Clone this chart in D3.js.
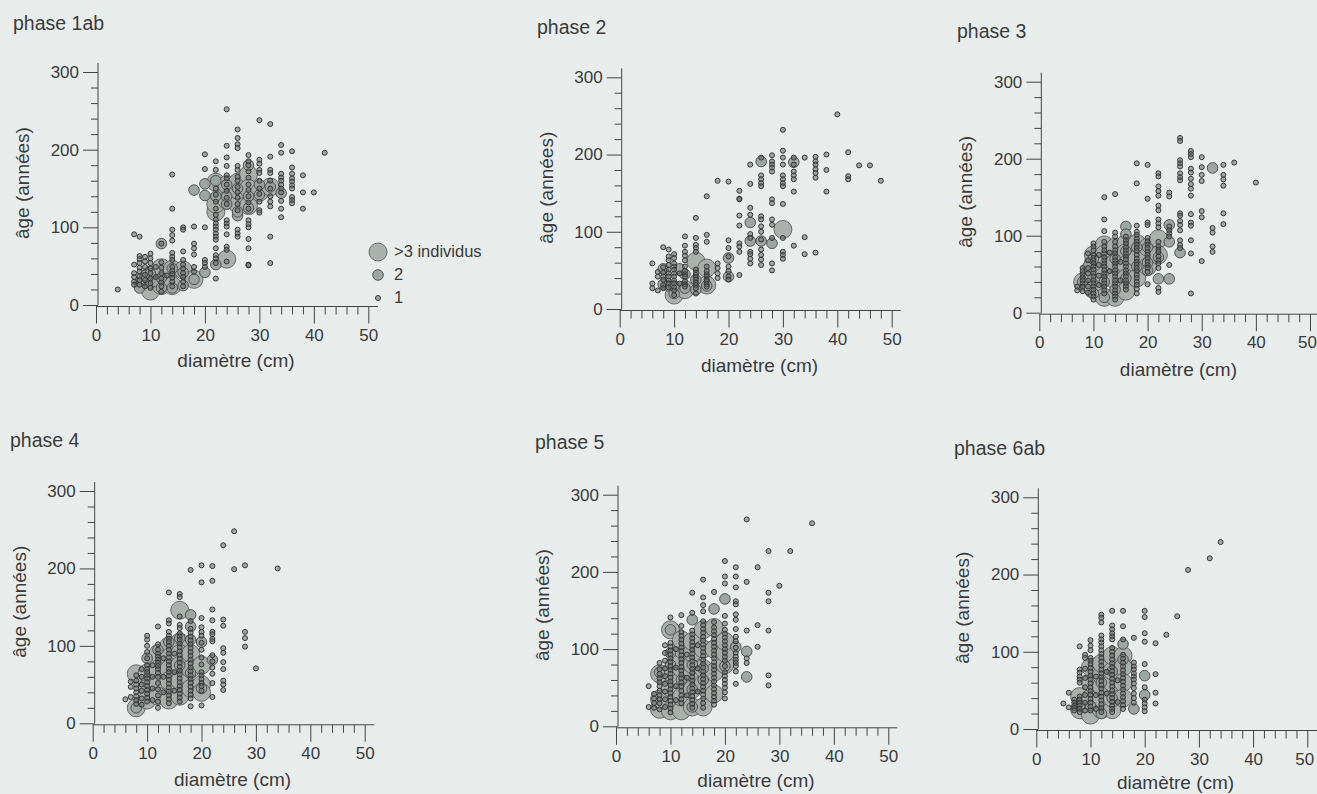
<!DOCTYPE html>
<html lang="fr">
<head>
<meta charset="utf-8">
<title>âge / diamètre par phase</title>
<script src="https://cdn.jsdelivr.net/npm/d3@7"></script>
<style>
  html, body { margin: 0; padding: 0; background: #e8edec; overflow: hidden; }
  text { font-family: "Liberation Sans", Arial, sans-serif; fill: #3a3a3a; }
</style>
</head>
<body>
<div id="chart"></div>
<script>
// values
// each row: diameter (cm), then the ages (years) seen in that column
const phase1abOne = [[4,20],[7,91,52,41,36,30,26],[8,88,63,59,54,48,43,37,32,26],[9,62,56,49,39,32,24],
  [10,66,60,54,47,41,34,28,22],[11,49,36],[12,79,55,48,41,34,29,24,17],[13,38],
  [14,168,124,97,90,83,67,62,58,49,44,40,35,30,24],[16,100,97,69,58,52,47,41,36,30,24],[18,101,79,73,65,49,43],
  [20,194,175,100,58,54,49],[22,185,174,150,142,133,124,116,110,105,101,97,92,88,84,73,64,60,54,34],
  [24,252,205,190,179,167,163,155,147,138,130,109,105,101,91,75,71,56],
  [26,226,215,207,202,179,174,165,160,152,145,138,130,122,97,92,88],
  [28,193,185,180,172,164,155,148,140,132,124,109,104,100,85,73,52,51],[30,238,187,182,174,170,160,150,143,133,122,119],
  [32,233,191,174,170,160,150,140,133,127,88,54],[34,206,196,169,164,160,155,150,145,134,124,113],
  [36,198,177,169,163,159,154,150,139,135,131],[38,167,145,124],[40,145],[42,196]];
const phase1abTwo = [[8,28],[8,22],[9,38],[10,40],[10,28],[11,30],[12,79],[12,22],[12,35],[14,22],[14,47],[16,25],[16,42],[18,33],
  [20,42],[18,148],[20,156],[20,141],[22,52],[26,115],[22,160],[22,140],[24,155],[24,130],[26,150],[26,120],
  [28,125],[28,140],[30,142],[32,152],[34,144],[24,140],[28,180],[30,155]];
const phase1abMany = [[10,18],[10,38],[12,25],[12,48],[14,46],[14,25],[16,45],[18,33],[22,120],[22,130],[22,158],[24,59],[24,145],
  [24,135],[24,155],[26,130],[26,148],[26,158],[28,168],[28,150],[28,128],[30,145],[32,152]];

const phase2One = [[6,59,33,27],[7,48,42,24],[8,80,54,47,42,38,31,27],[9,77,68,63,57,51,46,42,37,33,28],
  [10,71,66,59,55,51,46,42,37,33,28,24,18],[11,46,33],[12,94,82,74,69,63,55,49,45,42,36,32,29],
  [14,118,92,83,79,74,51,47,44,41,38,34,31,27,20],[16,146,96,87,55,49,45,42,38,36,32,29],
  [18,166,59,53,46,40],[20,165,89,79,68,55,49,42,38],[22,153,143,142,121,108,85,81,74,44],
  [24,187,162,131,122,97,92,74,71,65,59],[26,196,173,168,163,159,120,116,107,100,90,77,70,64,57],
  [28,199,191,187,183,178,142,137,116,109,92,59,50],[30,232,205,196,187,173,168,163,159,136,92,74,70,65],
  [32,196,187,178,173,168,152,82],[34,196,93,71],[36,197,191,187,181,176,170,73],[38,200,180,152],[40,252],
  [42,203,172,168],[44,186],[46,186],[48,166]];
const phase2Two = [[8,52],[8,32],[11,52],[9,30],[10,20],[10,30],[12,45],[12,27],[14,25],[14,38],[16,30],[20,66],[20,42],
  [24,112],[24,88],[26,88],[28,85],[32,190],[26,191]];
const phase2Many = [[30,103],[14,62],[16,53],[10,18],[12,25],[16,31]];

const phase3One = [[7,34,29],[8,58,54,50,46,42,38,34,28],[9,77,68,58,51,42,34,26],
  [10,90,86,81,75,71,68,64,60,56,51,47,42,38,34,30,25,21,17],[11,75,62,48,36],
  [12,150,121,106,92,86,81,77,72,68,64,60,55,51,47,42,38,34,29,25],[13,78,54],
  [14,154,104,99,92,86,81,77,72,68,64,60,55,51,47,42,38,34,29,25,21,17],[15,66,42],
  [16,99,94,90,85,81,77,73,69,64,60,55,51,47,42,38,34,30],
  [18,194,168,113,105,101,96,92,88,84,80,75,70,66,62,58,54,49,45,40,36,31,25],
  [20,192,148,117,114,97,92,88,84,79,75,71,66,62,58,53,37],
  [22,181,177,164,158,152,139,133,121,116,111,92,86,82,79,73,68,64,58,32,27],
  [24,156,151,112,107,103,99,62],[26,227,223,198,194,190,181,176,172,129,126,119,114,107,94,88,84],
  [28,210,206,202,187,182,174,167,161,152,128,117,113,94,77,25],[30,202,189,179,171,132,124,67],
  [32,110,104,86,79],[34,192,179,173,165,129,115],[36,195],[40,169]];
const phase3Two = [[32,188],[24,114],[24,92],[26,78],[24,44],[22,44],[20,85],[20,65],[18,60],[16,45],[12,20],[10,25],
  [14,30],[16,112],[16,102],[9,60],[8,40],[10,70],[14,70],[18,85],[22,72],[16,80],[12,40],[20,55]];
const phase3Many = [[8,40],[10,65],[10,75],[10,50],[10,30],[12,88],[12,76],[12,62],[12,48],[12,20],[14,85],[14,65],[14,42],[14,20],
  [16,90],[16,78],[16,62],[16,45],[16,28],[18,90],[18,70],[18,45],[20,85],[20,60],[22,96],[22,75]];

const phase4One = [[6,31],[7,54,47,34],[8,62,55,50,45,40,35,30,25],[9,70,60,50,42,32,24],
  [10,113,108,100,92,84,75,70,66,62,58,53,48,43,38,33,28],
  [11,75,60,45,30],[12,125,102,95,90,86,82,78,74,70,65,60,52,44,36,28,20],
  [13,84,60,40],
  [14,169,133,129,118,113,109,105,100,95,90,85,80,75,70,66,61,56,51,46,41,36,31,26],[15,90,66,42],
  [16,167,163,138,127,123,116,112,108,103,98,93,88,83,78,73,68,63,58,53,48,43,38,33,28],
  [18,198,132,122,117,112,107,102,97,92,87,82,77,72,67,62,57,52,47,42,37,32,22],
  [20,204,182,136,124,118,113,104,95,85,76,66,62,57,52,48,42,23],[22,203,184,147,133,118,115,109,106,88,80,72,64,52,34],
  [24,230,134,126,97,91,79,70,55,50,43],[26,248,199],[28,204,118,110,99],[30,71],[34,200]];
const phase4Two = [[10,84],[18,140],[18,125],[20,105],[22,82],[18,108],[14,105],[16,75],[8,20],[18,65],[20,45],[12,95],[16,110]];
const phase4Many = [[8,64],[8,20],[10,65],[10,45],[10,30],[12,90],[12,70],[12,50],[12,35],[14,100],[14,85],[14,70],[14,55],[14,30],
  [16,146],[16,105],[16,90],[16,75],[16,55],[16,35],[18,90],[18,70],[18,45],[20,75],[20,50],[20,40]];

const phase5One = [[6,52,25],[7,42,36,30,24],[8,82,74,68,62,57,52,46,40,35,30,22],[9,105,95,85,75,65,55,45,35,25],
  [10,141,108,103,98,93,88,83,78,73,68,63,58,53,48,43,38,33,28,23,18],[11,100,76,52,34],
  [12,144,130,122,117,112,107,102,97,92,87,82,77,72,67,62,57,52,46,40,35,30],[13,93,63,40],
  [14,173,147,124,119,114,109,104,99,94,89,84,79,74,69,64,59,54,49,44,39,34,29,24],[15,105,75,45],
  [16,190,167,157,149,136,131,126,121,116,111,106,101,96,91,86,81,76,71,66,61,56,51,46,41,36,30,24],
  [18,174,135,128,123,118,113,108,103,98,93,88,83,78,73,68,63,58,53,48,43,38,33,28],
  [20,214,194,185,143,133,125,120,115,110,105,100,95,90,85,78,70,65,60,55,50,44,36],
  [22,206,194,180,162,158,145,138,126,116,110,102,95,90,86,82,78,71,55],[24,268,187,124,88,82],[26,206,131,103],
  [28,227,173,162,124,66,53],[30,182],[32,227],[36,263]];
const phase5Two = [[20,165],[18,152],[14,138],[10,125],[24,97],[24,64],[22,103],[14,48],[16,75],[16,60],[20,78],[8,70],
  [14,80],[12,60],[14,25],[10,95],[10,80]];
const phase5Many = [[8,22],[8,35],[8,68],[10,20],[10,50],[10,70],[10,125],[12,20],[12,38],[12,60],[12,75],[12,85],[12,100],[12,112],
  [14,25],[14,48],[14,70],[14,80],[14,95],[14,110],[16,25],[16,55],[16,75],[16,100],[16,125],[18,42],[18,70],[18,100],[18,128],
  [20,80],[20,95],[20,110]];

const phase6abOne = [[5,33],[6,47,28],[7,38,34,30,27,24],[8,107,77,73,68,64,60,42,38,34,30,26,22],
  [9,96,92,78,66,54,44,34,24],
  [10,115,108,102,92,88,84,79,74,69,64,59,54,49,44,39,34,29,24],[11,68,44,26],
  [12,148,144,138,121,116,112,107,102,97,92,87,82,77,72,67,62,57,52,47,42,37,32,27,22],[13,74,46],
  [14,153,134,129,124,120,116,105,100,95,90,85,80,75,70,65,60,55,50,45,40,35,30,26,22],[15,63,35],
  [16,153,133,116,96,91,86,81,76,71,66,61,56,51,46,41,36,31,26],
  [18,118,86,81,77,72,68,64,59,53,46,40,34],[20,153,145,124,113,84,54,38,33,28,23],
  [22,111,71,47,33],[24,122],[26,146],[28,206],[32,221],[34,242]];
const phase6abTwo = [[16,110],[20,69],[20,44],[18,26],[12,20],[14,40],[14,75],[12,60],[10,30],[8,30],[16,90]];
const phase6abMany = [[8,42],[8,25],[10,18],[10,40],[10,60],[10,80],[12,25],[12,40],[12,55],[12,70],[12,85],[14,25],[14,40],[14,60],[14,75],[14,95],
  [16,95],[16,80],[16,60],[16,40]];

const xMajorTicks = [0, 10, 20, 30, 40, 50];
const xMinorTicks = [2, 4, 6, 8, 12, 14, 16, 18, 22, 24, 26, 28, 32, 34, 36, 38, 42, 44, 46, 48];
const yMajorTicks = [0, 100, 200, 300];
const yMinorTicks = [20, 40, 60, 80, 120, 140, 160, 180, 220, 240, 260, 280];
const legendLabels = ['>3 individus', '2', '1'];
const xLabel = 'diamètre (cm)';
const yLabel = 'âge (années)';

// position of every panel on the page
const panels = [
  {title: 'phase 1ab', one: phase1abOne, two: phase1abTwo, many: phase1abMany,
    titleX: 13, titleY: 30, x0: 96, x50: 368.3, y0: 305, y300: 72, xEnd: 378, labelDy: 62},
  {title: 'phase 2', one: phase2One, two: phase2Two, many: phase2Many,
    titleX: 537, titleY: 34, x0: 619.7, x50: 891.7, y0: 309, y300: 77.3, xEnd: 900.7, labelDy: 63},
  {title: 'phase 3', one: phase3One, two: phase3Two, many: phase3Many,
    titleX: 957, titleY: 38, x0: 1039.3, x50: 1310, y0: 312.7, y300: 81.7, xEnd: 1317, labelDy: 63},
  {title: 'phase 4', one: phase4One, two: phase4Two, many: phase4Many,
    titleX: 10, titleY: 447, x0: 92.7, x50: 364.7, y0: 723.3, y300: 491, xEnd: 374.3, labelDy: 63},
  {title: 'phase 5', one: phase5One, two: phase5Two, many: phase5Many,
    titleX: 535, titleY: 449, x0: 616, x50: 888.3, y0: 726.3, y300: 494.7, xEnd: 897.3, labelDy: 61},
  {title: 'phase 6ab', one: phase6abOne, two: phase6abTwo, many: phase6abMany,
    titleX: 954, titleY: 455, x0: 1036.3, x50: 1307.3, y0: 729, y300: 497.3, xEnd: 1317, labelDy: 60},
];

const radius = {one: 2.5, two: 5.3, many: 9};
const fill = {one: '#666c6a', two: '#99a29e', many: '#a6aeaa'};
const fillOpacity = {one: 0.55, two: 0.95, many: 0.95};
const stroke = {one: '#363636', two: '#484848', many: '#505050'};
const strokeWidth = {one: 1, two: 0.9, many: 0.8};

const svg = d3.select('#chart')
    .append('svg')
    .attr('width', 1317)
    .attr('height', 794);

// turn [d, age, age...] rows into one {d, age} object per circle
const expand = (rows) => rows.flatMap((row) =>
  row.slice(1).map((age) => ({d: row[0], age: age})));

const drawCircles = (g, x, y, rows, kind) => {
  g.append('g')
      .selectAll('circle')
      .data(expand(rows))
      .join('circle')
      .attr('cx', (d) => x(d.d))
      .attr('cy', (d) => y(d.age))
      .attr('r', radius[kind])
      .attr('fill', fill[kind])
      .attr('fill-opacity', fillOpacity[kind])
      .attr('stroke', stroke[kind])
      .attr('stroke-width', strokeWidth[kind]);
};

const styleAxis = (axis) => {
  axis.select('.domain').remove();
  axis.selectAll('line').attr('stroke', '#444').attr('stroke-width', 1);
  axis.selectAll('text')
      .style('font-size', '17px')
      .style('font-family', '"Liberation Sans", Arial, sans-serif')
      .attr('fill', '#3a3a3a');
};

const drawPanel = (panel) => {
  const g = svg.append('g');
  const x = d3.scaleLinear().domain([0, 50]).range([panel.x0, panel.x50]);
  const y = d3.scaleLinear().domain([0, 300]).range([panel.y0, panel.y300]);
  // the y axis sits just right of x=0 and the x axis just under y=0 on the original
  const axisX = panel.x0 + 2;
  const axisY = panel.y0 + 1.5;

  g.append('text')
      .attr('x', panel.titleX)
      .attr('y', panel.titleY)
      .style('font-size', '19.5px')
      .text(panel.title);

  g.append('line')
      .attr('x1', axisX).attr('x2', axisX)
      .attr('y1', panel.y300 - 9).attr('y2', panel.y0)
      .attr('stroke', '#444');
  g.append('line')
      .attr('x1', panel.x0).attr('x2', panel.xEnd)
      .attr('y1', axisY).attr('y2', axisY)
      .attr('stroke', '#444');

  g.append('g')
      .attr('transform', 'translate(' + axisX + ',0)')
      .call(d3.axisLeft(y).tickValues(yMajorTicks).tickFormat(d3.format('d')).tickSize(15).tickPadding(4))
      .call(styleAxis);
  g.append('g')
      .attr('transform', 'translate(' + axisX + ',0)')
      .call(d3.axisLeft(y).tickValues(yMinorTicks).tickFormat('').tickSize(7))
      .call(styleAxis);
  g.append('g')
      .attr('transform', 'translate(0,' + axisY + ')')
      .call(d3.axisBottom(x).tickValues(xMajorTicks).tickFormat(d3.format('d')).tickSize(17).tickPadding(5))
      .call(styleAxis)
      // keep the last label inside the page on the panels that touch the right edge
      .selectAll('text')
      .filter((d) => x(d) + 10 > 1317)
      .attr('dx', -3);
  g.append('g')
      .attr('transform', 'translate(0,' + axisY + ')')
      .call(d3.axisBottom(x).tickValues(xMinorTicks).tickFormat('').tickSize(8))
      .call(styleAxis);

  g.append('text')
      .attr('x', x(25.7))
      .attr('y', panel.y0 + panel.labelDy)
      .attr('text-anchor', 'middle')
      .style('font-size', '19px')
      .text(xLabel);
  g.append('text')
      .attr('transform', 'translate(' + (axisX - 69) + ',' + y(157) + ') rotate(-90)')
      .attr('text-anchor', 'middle')
      .style('font-size', '19px')
      .text(yLabel);

  // biggest first; the singles are half see-through so they read as rings on the big circles
  drawCircles(g, x, y, panel.many, 'many');
  drawCircles(g, x, y, panel.two, 'two');
  drawCircles(g, x, y, panel.one, 'one');
};

panels.forEach(drawPanel);

// size legend next to the first panel
const legend = svg.append('g').selectAll('g')
    .data(['many', 'two', 'one'])
    .join('g')
    .attr('transform', (d, i) => 'translate(378,' + (252 + i * 23) + ')');
legend.append('circle')
    .attr('r', (d) => radius[d])
    .attr('fill', (d) => fill[d])
    .attr('fill-opacity', (d) => fillOpacity[d])
    .attr('stroke', (d) => stroke[d])
    .attr('stroke-width', (d) => strokeWidth[d]);
legend.append('text')
    .attr('x', 16)
    .attr('y', 5)
    .style('font-size', '16.5px')
    .text((d, i) => legendLabels[i]);
</script>
</body>
</html>
